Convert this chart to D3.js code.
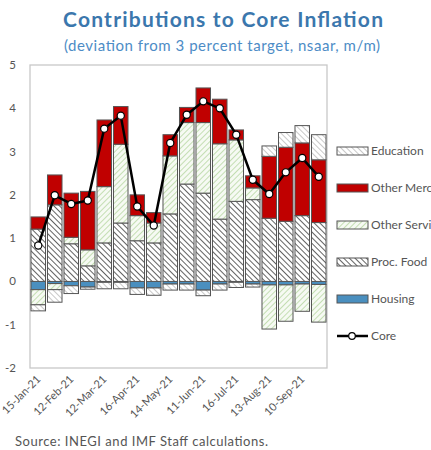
<!DOCTYPE html>
<html>
<head>
<meta charset="utf-8">
<script src="https://cdn.jsdelivr.net/npm/d3@7"></script>
<style>
  body { margin: 0; background: #fff; }
  svg { font-family: Lato, "Open Sans", sans-serif; }
</style>
</head>
<body>
<svg id="chart" width="431" height="450"></svg>
<script>
// biweekly periods
var periods = ["15-Jan-21","29-Jan-21","12-Feb-21","26-Feb-21","12-Mar-21","26-Mar-21",
  "16-Apr-21","30-Apr-21","14-May-21","28-May-21","11-Jun-21","25-Jun-21",
  "16-Jul-21","30-Jul-21","13-Aug-21","27-Aug-21","10-Sep-21","24-Sep-21"];

var housing   = [-0.19,-0.05,-0.10,-0.13,-0.02,-0.02,-0.15,-0.15,-0.06,-0.06,-0.20,-0.06,-0.02,-0.06,-0.08,-0.08,-0.06,-0.07];
var procFood  = [1.21,1.77,0.87,0.36,0.89,1.35,0.94,0.89,1.56,2.25,2.04,1.44,1.85,1.89,1.46,1.39,1.52,1.36];
var otherServ = [-0.35,-0.14,0.15,0.37,1.30,1.82,0.58,0.46,1.34,1.42,1.63,1.74,1.42,0.27,-1.02,-0.84,-0.63,-0.87];
var otherMerc = [0.28,0.69,1.02,1.35,1.54,0.87,0.48,0.24,0.49,0.35,0.80,1.03,0.23,0.28,1.43,1.71,1.68,1.45];
var education = [-0.14,-0.29,-0.18,-0.05,-0.15,-0.15,-0.15,-0.17,-0.14,-0.14,-0.13,-0.14,-0.12,-0.07,0.24,0.34,0.40,0.58];
var core      = [0.83,1.99,1.79,1.87,3.53,3.83,1.73,1.29,3.20,3.85,4.16,4.00,3.39,2.35,2.02,2.52,2.85,2.42];

var yTicks = [-2,-1,0,1,2,3,4,5];

var keys = ["housing","procFood","otherServ","otherMerc","education"];
var names = {housing:"Housing", procFood:"Proc. Food", otherServ:"Other Services",
             otherMerc:"Other Merchandise", education:"Education"};

var rows = periods.map(function(p, i) {
  return {period: p, housing: housing[i], procFood: procFood[i], otherServ: otherServ[i],
          otherMerc: otherMerc[i], education: education[i], core: core[i]};
});

var svg = d3.select("#chart");
var plotL = 30, plotR = 327, plotT = 65, plotB = 368;

// hatch patterns
var defs = svg.append("defs");
function hatch(id, color, dir, bg, sw) {
  var p = defs.append("pattern").attr("id", id)
      .attr("patternUnits", "userSpaceOnUse").attr("width", 4).attr("height", 4)
      .attr("patternTransform", "rotate(" + dir + ")");
  p.append("rect").attr("width", 4).attr("height", 4).attr("fill", bg);
  p.append("line").attr("x1", 0).attr("y1", 0).attr("x2", 0).attr("y2", 4)
      .attr("stroke", color).attr("stroke-width", sw);
}
hatch("hFood", "#3c3c3c", -45, "#fff", 1.6);
hatch("hEdu", "#aaa", -45, "#fff", 1.3);
hatch("hServ", "#a9cf90", 45, "#f6faf3", 1.3);

var fills = {housing: "#4a8fbf", procFood: "url(#hFood)", otherServ: "url(#hServ)",
             otherMerc: "#c00000", education: "url(#hEdu)"};

var x = d3.scaleBand().domain(periods).range([plotL, plotR])
    .paddingInner(0.12).paddingOuter(0.06);
var y = d3.scaleLinear().domain([-2, 5]).range([plotB, plotT]);

// plot frame
svg.append("rect").attr("x", plotL).attr("y", plotT)
    .attr("width", plotR - plotL).attr("height", plotB - plotT)
    .attr("fill", "none").attr("stroke", "#c8c8c8").attr("stroke-width", 1.3);

var stack = d3.stack().keys(keys).offset(d3.stackOffsetDiverging);
var series = stack(rows);

svg.append("g").selectAll("g")
  .data(series).enter().append("g")
    .attr("fill", function(d) { return fills[d.key]; })
  .selectAll("rect")
  .data(function(d) { return d; }).enter().append("rect")
    .attr("x", function(d) { return x(d.data.period); })
    .attr("width", x.bandwidth())
    .attr("y", function(d) { return y(Math.max(d[0], d[1])); })
    .attr("height", function(d) { return Math.abs(y(d[0]) - y(d[1])); })
    .attr("stroke", "#555").attr("stroke-width", 1);

// core line
var line = d3.line()
    .x(function(d) { return x(d.period) + x.bandwidth() / 2; })
    .y(function(d) { return y(d.core); });

svg.append("path").datum(rows)
    .attr("fill", "none").attr("stroke", "#000").attr("stroke-width", 2.5)
    .attr("stroke-linejoin", "round").attr("d", line);

svg.append("g").selectAll("circle").data(rows).enter().append("circle")
    .attr("cx", function(d) { return x(d.period) + x.bandwidth() / 2; })
    .attr("cy", function(d) { return y(d.core); })
    .attr("r", 3.6).attr("fill", "#fff").attr("stroke", "#000").attr("stroke-width", 1.2);

// y axis labels
svg.append("g").selectAll("text").data(yTicks).enter().append("text")
    .attr("x", 16).attr("y", function(d) { return y(d) + 4; })
    .attr("text-anchor", "end").attr("font-size", 11.5).attr("fill", "#555")
    .text(function(d) { return d; });

// x axis labels, every other period
svg.append("g").selectAll("text")
  .data(periods.filter(function(d, i) { return i % 2 === 0; }))
  .enter().append("text")
    .attr("transform", function(d) {
      return "translate(" + (x(d) + x.bandwidth() / 2 + 3) + ",380) rotate(-45)";
    })
    .attr("text-anchor", "end").attr("font-size", 11).attr("fill", "#555")
    .text(function(d) { return d; });

// legend
var legendKeys = ["education","otherMerc","otherServ","procFood","housing"];
var lg = svg.append("g");
legendKeys.forEach(function(k, i) {
  var ly = 151 + i * 37;
  lg.append("rect").attr("x", 337).attr("y", ly - 4).attr("width", 31).attr("height", 8)
      .attr("fill", fills[k]).attr("stroke", "#555").attr("stroke-width", 1);
  lg.append("text").attr("x", 371).attr("y", ly + 4)
      .attr("font-size", 12).attr("fill", "#555").text(names[k]);
});
var cy = 151 + 5 * 37;
lg.append("line").attr("x1", 337).attr("x2", 368).attr("y1", cy).attr("y2", cy)
    .attr("stroke", "#000").attr("stroke-width", 2.5);
lg.append("circle").attr("cx", 352).attr("cy", cy).attr("r", 3.3)
    .attr("fill", "#fff").attr("stroke", "#000").attr("stroke-width", 1.2);
lg.append("text").attr("x", 371).attr("y", cy + 4)
    .attr("font-size", 12).attr("fill", "#555").text("Core");

// titles
svg.append("text").attr("x", 223).attr("y", 27).attr("text-anchor", "middle")
    .attr("font-size", 21).attr("font-weight", "bold").attr("fill", "#3b77ad")
    .attr("textLength", 320).attr("lengthAdjust", "spacing")
    .text("Contributions to Core Inflation");
svg.append("text").attr("x", 222).attr("y", 51).attr("text-anchor", "middle")
    .attr("font-size", 15).attr("fill", "#4d8cc6")
    .attr("textLength", 316).attr("lengthAdjust", "spacing")
    .text("(deviation from 3 percent target, nsaar, m/m)");

svg.append("text").attr("x", 15).attr("y", 446)
    .attr("font-size", 13).attr("fill", "#555")
    .attr("textLength", 253).attr("lengthAdjust", "spacing")
    .text("Source: INEGI and IMF Staff calculations.");
</script>
</body>
</html>
